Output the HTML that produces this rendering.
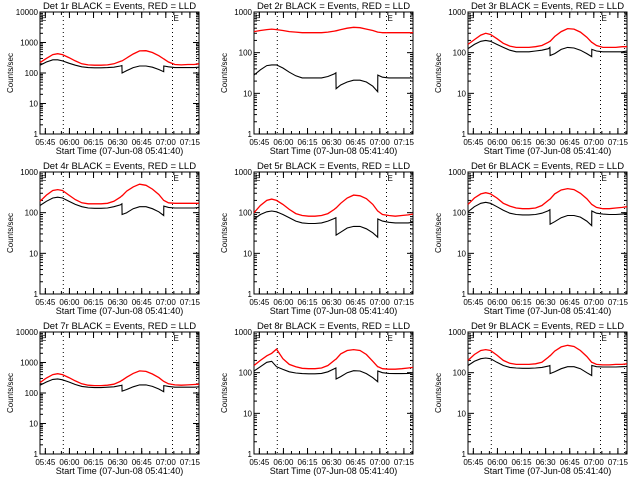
<!DOCTYPE html>
<html><head><meta charset="utf-8"><style>
html,body{margin:0;padding:0;background:#fff}
svg{display:block}
text{font-family:"Liberation Sans",sans-serif;font-size:8px;fill:#000}
text.title{font-size:9.5px}
text.xtitle{font-size:9px}
</style></head><body>
<svg id="chart" width="640" height="480" viewBox="0 0 640 480" xmlns="http://www.w3.org/2000/svg">
<rect width="640" height="480" fill="#fff"/>
</svg>
<script>
// minutes after 05:41:40
const times = [0,4,8,11,14,18,22,26,30,34,38,42,46,50,51,51.1,54,58,62,66,70,74,77,77.1,80,84,88,92,96,99];
const panelTitles = ["Det 1r","Det 2r","Det 3r","Det 4r","Det 5r","Det 6r","Det 7r","Det 8r","Det 9r"];
const panelDecades = [4,3,3,3,3,3,4,3,3];
const xTickLabels = ["05:45","06:00","06:15","06:30","06:45","07:00","07:15"];
const xTickMinutes = [3.33,18.33,33.33,48.33,63.33,78.33,93.33];
const dottedMinutes = [14.5,82.5,97.5];
const red1 = [220,300,400,430,400,320,250,200,185,180,180,185,200,240,250,250,310,420,530,540,470,370,290,290,230,190,185,190,190,200];
const blk1 = [180,230,270,270,250,210,180,160,150,148,148,150,155,170,175,100,120,150,170,170,155,130,110,170,160,150,150,150,150,155];
const red2 = [330,350,370,380,370,350,330,320,310,310,310,310,320,340,345,345,370,400,420,410,380,350,320,320,310,310,310,310,310,310];
const blk2 = [28,38,48,50,50,42,33,27,24,24,24,24,26,30,32,13,16,19,21,21,19,15,11,28,25,24,24,24,24,24];
const red3 = [160,210,270,300,280,220,170,145,135,135,135,140,150,180,190,190,250,330,390,380,320,240,180,180,150,135,135,135,140,140];
const blk3 = [125,160,190,200,190,160,135,115,105,105,105,110,115,125,135,85,95,120,135,130,115,95,80,120,110,105,105,105,105,110];
const red4 = [190,270,350,370,350,270,210,175,165,165,165,170,190,240,260,260,340,430,500,470,380,280,200,200,175,170,170,170,170,170];
const blk4 = [150,190,230,240,230,190,160,140,130,128,128,130,140,155,165,90,100,125,140,140,125,105,85,145,135,130,130,130,130,135];
const red5 = [100,150,200,215,200,160,120,95,85,82,82,85,95,120,130,130,170,230,270,260,220,160,110,110,90,85,82,85,88,92];
const blk5 = [70,90,105,110,105,90,75,62,56,54,54,56,62,72,75,28,33,42,46,46,40,32,25,70,62,58,56,56,56,58];
const red6 = [160,230,290,310,290,230,170,145,130,125,125,130,150,200,215,215,290,360,390,370,300,220,160,160,135,125,125,130,135,140];
const blk6 = [105,140,170,180,170,140,115,97,90,88,88,90,97,112,118,52,60,75,85,85,78,62,48,110,97,92,90,90,92,95];
const red7 = [220,310,400,430,400,320,250,200,180,175,175,180,195,240,260,260,330,440,530,510,420,320,240,240,200,185,180,185,190,195];
const blk7 = [180,230,280,290,270,230,190,165,155,150,150,155,160,175,180,115,130,160,185,185,165,135,110,175,165,155,155,155,155,160];
const red8 = [150,200,260,300,380,220,160,140,128,125,125,130,150,200,215,215,290,350,370,350,280,190,140,140,125,122,122,125,130,135];
const blk8 = [110,140,180,190,140,120,105,98,95,94,94,96,105,125,130,70,80,100,112,110,95,75,60,110,100,96,95,95,96,98];
const red9 = [200,280,350,370,350,270,200,170,160,160,160,165,180,240,260,260,340,430,470,440,350,250,180,180,160,155,155,160,160,165];
const blk9 = [150,190,220,230,220,180,150,135,130,128,128,130,135,145,150,95,105,125,140,140,125,100,85,150,140,138,138,138,140,142];
const redSeries = [red1,red2,red3,red4,red5,red6,red7,red8,red9];
const blackSeries = [blk1,blk2,blk3,blk4,blk5,blk6,blk7,blk8,blk9];
const T_MAX = 99;

const NS = "http://www.w3.org/2000/svg";
const svg = document.getElementById("chart");
function mk(tag, attrs, parent){
  const e = document.createElementNS(NS, tag);
  for (const k in attrs) e.setAttribute(k, attrs[k]);
  (parent||svg).appendChild(e);
  return e;
}
const colX = [40,254,468], rowY = [12,172,332], PW = 159, PH = 122;

for (let p = 0; p < 9; p++) {
  const L = colX[p%3], T = rowY[Math.floor(p/3)], R = L+PW, B = T+PH;
  const dec = panelDecades[p];
  const g = mk("g", {});
  
  
  const xs = m => L + m / T_MAX * PW;
  const ys = v => B - Math.log10(Math.max(v, 1)) / dec * PH;

  const title = mk("text", {x:(L+R)/2, y:T-3, "text-anchor":"middle", "class":"title"}, g);
  title.textContent = panelTitles[p] + " BLACK = Events, RED = LLD";
  
  

  dottedMinutes.forEach(m => {
    const l = mk("line", {x1:xs(m), x2:xs(m), y1:T, y2:B, stroke:"#000", "stroke-width":1, "stroke-dasharray":"1,3"}, g);
    
    
  });
  [0, dottedMinutes[1]].forEach(m => {
    const e = mk("text", {x:xs(m)+1, y:T+9, "font-size":"10"}, g);
    e.textContent = "E";
    
    
  });

  const fr = mk("rect", {x:L, y:T, width:PW, height:PH, fill:"none", stroke:"#000", "stroke-width":1}, g);
  
  

  for (let d = 0; d <= dec; d++) {
    const y = ys(Math.pow(10,d));
    mk("line", {x1:L, x2:L+6, y1:y, y2:y, stroke:"#000"}, g);
    mk("line", {x1:R-6, x2:R, y1:y, y2:y, stroke:"#000"}, g);
    const t = mk("text", {x:L-2, y:y+3, "text-anchor":"end"}, g);
    t.textContent = String(Math.pow(10,d));
    
    
    if (d < dec) for (let k = 2; k <= 9; k++) {
      const yy = ys(k*Math.pow(10,d));
      mk("line", {x1:L, x2:L+3, y1:yy, y2:yy, stroke:"#000"}, g);
      mk("line", {x1:R-3, x2:R, y1:yy, y2:yy, stroke:"#000"}, g);
    }
  }
  xTickMinutes.forEach((m, i) => {
    const x = xs(m);
    mk("line", {x1:x, x2:x, y1:B, y2:B-6, stroke:"#000"}, g);
    mk("line", {x1:x, x2:x, y1:T, y2:T+6, stroke:"#000"}, g);
    const t = mk("text", {x:x, y:B+11, "text-anchor":"middle"}, g);
    t.textContent = xTickLabels[i];
    
    
  });
  for (let m = 3.33 - 5; m < T_MAX; m += 5) {
    if (m < 0) continue;
    const x = xs(m);
    mk("line", {x1:x, x2:x, y1:B, y2:B-3, stroke:"#000"}, g);
    mk("line", {x1:x, x2:x, y1:T, y2:T+3, stroke:"#000"}, g);
  }
  const xl = mk("text", {x:(L+R)/2, y:B+20, "text-anchor":"middle", "class":"xtitle"}, g);
  xl.textContent = "Start Time (07-Jun-08 05:41:40)";
  
  
  const yl = mk("text", {x:0, y:0, "text-anchor":"middle", transform:`translate(${L-27},${(T+B)/2}) rotate(-90)`}, g);
  yl.textContent = "Counts/sec";
  
  

  const pts = arr => arr.map((v,i) => xs(times[i]).toFixed(1)+","+ys(v).toFixed(1)).join(" ");
  const rl = mk("polyline", {points:pts(redSeries[p]), fill:"none", stroke:"#ff0000", "stroke-width":1.3}, g);
  
  
  const bl = mk("polyline", {points:pts(blackSeries[p]), fill:"none", stroke:"#000", "stroke-width":1.1}, g);
  
  
}
</script>
</body></html>
